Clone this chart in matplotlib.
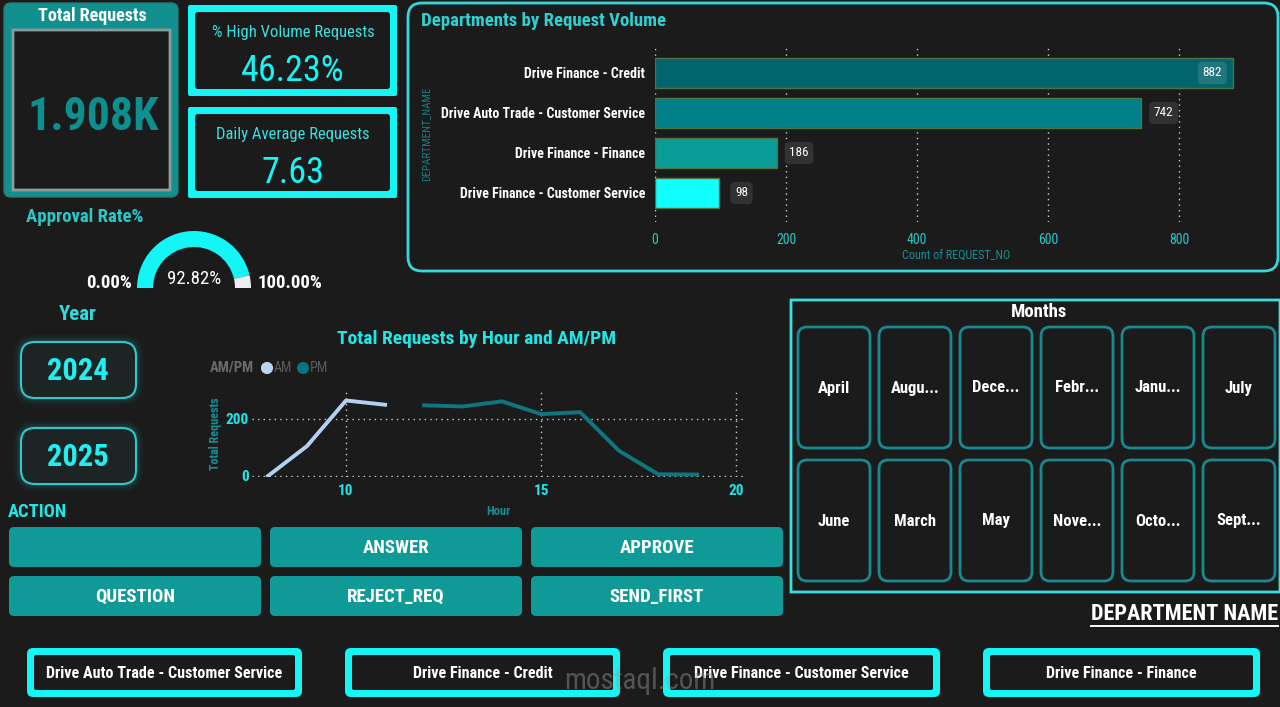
import matplotlib
matplotlib.use('Agg')
import matplotlib.pyplot as plt
import matplotlib.font_manager as fm
from matplotlib.patches import FancyBboxPatch, Wedge

# pick a narrow face if one is installed, the dashboard uses a condensed font
names = {f.name for f in fm.fontManager.ttflist}
FONT = 'DejaVu Sans'
for cand in ['Liberation Sans Narrow', 'Roboto Condensed', 'Open Sans Condensed']:
    if cand in names:
        FONT = cand
        break
plt.rcParams['font.family'] = [FONT, 'DejaVu Sans']

# ---- data ----
total_requests = '1.908K'
high_volume_pct = '46.23%'
daily_avg = '7.63'
approval_rate = 92.82

departments = ['Drive Finance - Credit', 'Drive Auto Trade - Customer Service',
               'Drive Finance - Finance', 'Drive Finance - Customer Service']
dept_counts = [882, 742, 186, 98]
bar_colors = ['#02656e', '#02808a', '#0a9d98', '#12ffff']

am_hours = [8, 9, 10, 11]
am_requests = [0, 105, 265, 250]
pm_hours = [12, 13, 14, 15, 16, 17, 18, 19]
pm_requests = [248, 244, 262, 217, 224, 88, 6, 5]

years = ['2024', '2025']
months = ['April', 'Augu...', 'Dece...', 'Febr...', 'Janu...', 'July',
          'June', 'March', 'May', 'Nove...', 'Octo...', 'Sept...']
actions = ['', 'ANSWER', 'APPROVE', 'QUESTION', 'REJECT_REQ', 'SEND_FIRST']
dept_buttons = ['Drive Auto Trade - Customer Service', 'Drive Finance - Credit',
                'Drive Finance - Customer Service', 'Drive Finance - Finance']

BG = '#1b1b1b'
CYAN = '#14f5f5'
W, H = 1280, 707

fig = plt.figure(figsize=(12.8, 7.07), dpi=100, facecolor=BG)
bg = fig.add_axes([0, 0, 1, 1])
bg.set_xlim(0, W)
bg.set_ylim(H, 0)
bg.axis('off')


def box(x, y, w, h, fc, ec='none', lw=0, r=4, z=1, alpha=1.0):
    bg.add_patch(FancyBboxPatch((x, y), w, h, boxstyle=f"round,pad=0,rounding_size={r}",
                                fc=fc, ec=ec, lw=lw, zorder=z, alpha=alpha))


def txt(x, y, s, size, color='white', weight='bold', ha='center', **kw):
    return bg.text(x, y, s, fontsize=size, color=color, fontweight=weight,
                   ha=ha, va='center', zorder=10, **kw)


def rect(x0, y0, x1, y1):
    return [x0 / W, 1 - y1 / H, (x1 - x0) / W, (y1 - y0) / H]


# ---- KPI cards ----
box(4, 3, 174, 194, fc='#12908f', ec='#2a7a70', lw=1, r=7)
box(13, 30, 157, 160, fc=BG, ec='#8a9c9c', lw=2, r=0, z=2)
txt(92, 16, 'Total Requests', 13)
txt(93, 117, total_requests, 33, color='#0e8f8f')

for y0, title, val in [(5, '% High Volume Requests', high_volume_pct),
                       (107, 'Daily Average Requests', daily_avg)]:
    box(188, y0, 209, 91, fc=CYAN, r=2)
    box(195, y0 + 7, 195, 77, fc=BG, r=3, z=2)
    txt(293, y0 + 28, title, 12, color='#3fdede', weight='normal')
    txt(293, y0 + 66, val, 26, color=CYAN, weight='normal')

# ---- approval gauge ----
txt(85, 217, 'Approval Rate%', 13.5, color='#2cc8c8')
cx, cy = 194, 288
split = 180 + approval_rate / 100 * 180
bg.add_patch(Wedge((cx, cy), 57, 180, split, width=16, fc=CYAN, ec='none', zorder=3))
bg.add_patch(Wedge((cx, cy), 57, split, 360, width=16, fc='#eeeeee', ec='none', zorder=3))
txt(cx, 279, f'{approval_rate:.2f}%', 13.5, weight='normal')
txt(109, 283, '0.00%', 13.5)
txt(290, 283, '100.00%', 13.5)

# ---- bar chart panel ----
box(408, 3, 870, 268, fc='none', ec='#35d8d8', lw=2, r=14, z=2)
txt(421, 21, 'Departments by Request Volume', 13.5, color='#2fd0d0', ha='left')

axb = fig.add_axes(rect(655, 46, 1258, 222))
axb.patch.set_alpha(0)
ypos = list(range(len(departments)))
axb.barh(ypos, dept_counts, height=0.75, color=bar_colors, edgecolor='#4d7445', lw=1, zorder=3)
axb.set_xlim(0, 920)
axb.set_ylim(3.725, -0.675)
axb.set_yticks(ypos)
axb.set_yticklabels(departments, color='white', fontweight='bold', fontsize=10)
axb.set_xticks([0, 200, 400, 600, 800])
axb.tick_params(axis='x', colors='#2cc8c8', labelsize=10, length=0, pad=8)
axb.tick_params(axis='y', length=0, pad=7)
axb.grid(axis='x', color='#cccccc', ls=(0, (1, 3)), lw=1, zorder=0)
for s in axb.spines.values():
    s.set_visible(False)
axb.set_xlabel('Count of REQUEST_NO', color='#178d95', fontsize=8.7, labelpad=2)
axb.set_ylabel('DEPARTMENT_NAME', color='#137e87', fontsize=8, labelpad=7)
for i, v in enumerate(dept_counts):
    inside = v == max(dept_counts)
    axb.annotate(str(v), (v, i), xytext=(-15 if inside else 16, 0), textcoords='offset points',
                 ha='center', va='center', color='white', fontsize=9.5, zorder=5,
                 bbox=dict(boxstyle='round,pad=0.35', fc='#22777c' if inside else '#323232', ec='none'))

# ---- year slicer ----
txt(78, 314, 'Year', 15, color='#2fdcdc')
for k, yr in enumerate(years):
    y0 = 342 + k * 86
    for g, a in [(7, 0.05), (4, 0.08), (2, 0.12)]:
        box(21 - g, y0 - g, 115 + 2 * g, 56 + 2 * g, fc='#1fd0d0', r=14 + g, alpha=a)
    box(21, y0, 115, 56, fc='#1c2424', ec='#33c6c6', lw=1.5, r=14, z=2)
    txt(78, y0 + 29, yr, 22, color='#22f0f0')

# ---- line chart ----
txt(477, 339, 'Total Requests by Hour and AM/PM', 14, color='#22e6e6')
txt(210, 368, 'AM/PM', 10.5, color='#6a6a6a', ha='left')
bg.scatter([267, 303], [368, 368], s=60, c=['#b8d6f2', '#0a747c'], zorder=10)
txt(274, 368, 'AM', 10, color='#5a5a5a', weight='normal', ha='left')
txt(310, 368, 'PM', 10, color='#5a5a5a', weight='normal', ha='left')

axl = fig.add_axes(rect(252, 390.5, 744, 477.4))
axl.patch.set_alpha(0)
axl.plot(am_hours, am_requests, color='#b3d1f0', lw=2.8, zorder=3)
axl.plot(pm_hours, pm_requests, color='#10767e', lw=2.8, zorder=3)
axl.set_xlim(7.59, 20.2)
axl.set_ylim(-5, 300)
axl.set_xticks([10, 15, 20])
axl.set_yticks([0, 200])
axl.tick_params(colors='#22e6e6', labelsize=11, length=0)
for lab in axl.get_xticklabels() + axl.get_yticklabels():
    lab.set_fontweight('bold')
axl.tick_params(axis='y', pad=2)
axl.tick_params(axis='x', pad=5)
axl.grid(color='#cccccc', ls=(0, (1, 3)), lw=1, zorder=0)
for s in axl.spines.values():
    s.set_visible(False)
axl.set_xlabel('Hour', color='#178d95', fontsize=9, fontweight='bold', labelpad=5)
axl.set_ylabel('Total Requests', color='#178d95', fontsize=8.7, fontweight='bold', labelpad=3)

# ---- months slicer ----
box(791, 300, 489, 292, fc='none', ec='#3adede', lw=2, r=0, z=2)
txt(1039, 312, 'Months', 13.5)
for k, m in enumerate(months):
    col, row = k % 6, k // 6
    x0 = 798 + col * 81
    y0 = 327 + row * 133
    box(x0, y0, 72, 121, fc=BG, ec='#19898f', lw=2, r=9, z=2)
    txt(x0 + 36, y0 + 61, m, 12)

# ---- action slicer ----
txt(8, 512, 'ACTION', 13.3, color='#22e6e6', ha='left')
for k, a in enumerate(actions):
    col, row = k % 3, k // 3
    x0 = 9 + col * 261
    y0 = 527 + row * 49
    box(x0, y0, 252, 40, fc='#0f9a98', r=5, z=2)
    txt(x0 + 126, y0 + 21, a, 13.5)

# ---- department slicer ----
txt(1278, 614, 'DEPARTMENT NAME', 16, ha='right')
bg.plot([1091, 1278], [626, 626], color='white', lw=1.4, zorder=10)
for (x0, w), d in zip([(27, 275), (345, 275), (663, 277), (983, 277)], dept_buttons):
    box(x0, 648, w, 49, fc=CYAN, r=6, z=2)
    box(x0 + 7, 655, w - 14, 35, fc=BG, r=2, z=3)
    txt(x0 + w / 2, 673, d, 11.6)

# watermark
txt(640, 681, 'mostaql.com', 21, color='#9a9a9a', weight='normal', alpha=0.45)

fig.savefig('out.png', dpi=100, facecolor=BG)
